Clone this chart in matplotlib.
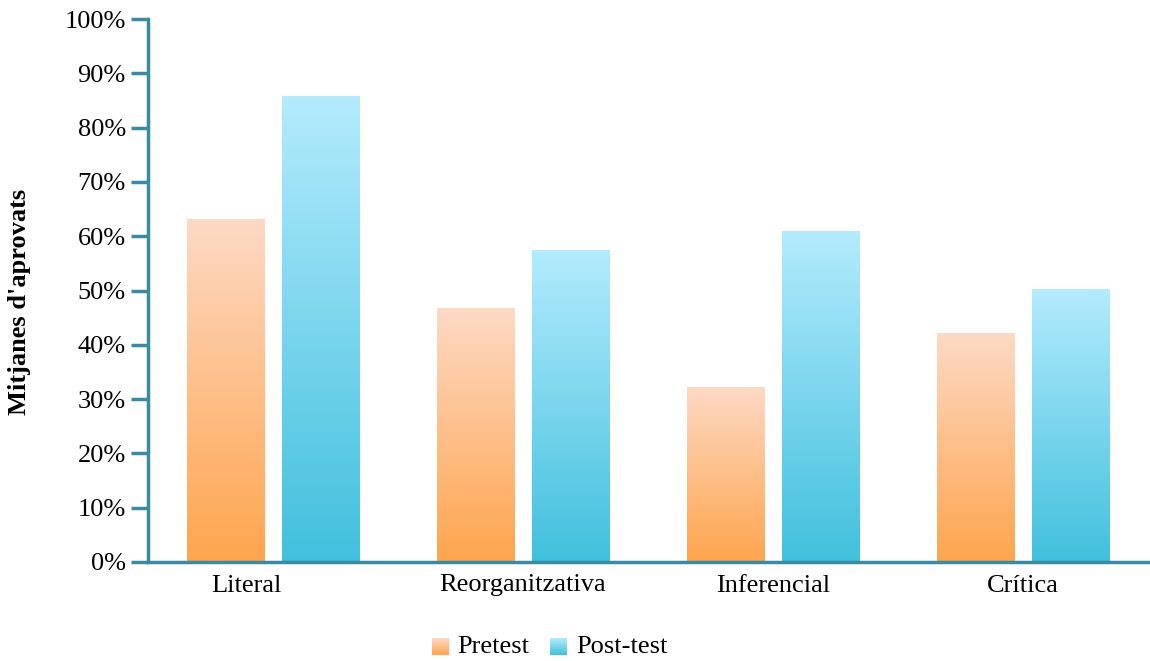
import matplotlib
matplotlib.use('Agg')
import matplotlib.pyplot as plt
import numpy as np
from matplotlib.colors import LinearSegmentedColormap
from matplotlib.ticker import FuncFormatter
from matplotlib.transforms import ScaledTranslation

plt.rcParams['font.family'] = ['Liberation Serif', 'DejaVu Serif']

categories = ['Literal', 'Reorganitzativa', 'Inferencial', 'Crítica']
pretest = [63.0, 46.6, 32.2, 42.0]
posttest = [85.8, 57.3, 60.8, 50.1]
series_names = ['Pretest', 'Post-test']

# degradats: de baix (intens) a dalt (clar)
cmap_pre = LinearSegmentedColormap.from_list('pre', ['#FFA54E', '#FDD9C5'])
cmap_post = LinearSegmentedColormap.from_list('post', ['#41C0DD', '#B4EBFD'])
axis_color = '#3A8BA1'
fs = 19

fig = plt.figure(figsize=(11.5, 6.61), dpi=100)
ax = fig.add_axes([148 / 1150, 1 - 562 / 661, 1000 / 1150, (562 - 19) / 661])

x = np.arange(len(categories))
w = 0.312
grad = np.linspace(0, 1, 256).reshape(-1, 1)


def gradient_bars(xpos, vals, cmap):
    bars = ax.bar(xpos, vals, w, color='none', edgecolor='none')
    for b in bars:
        x0, y0 = b.get_x(), b.get_y()
        ax.imshow(grad, cmap=cmap, origin='lower', aspect='auto',
                  extent=(x0, x0 + b.get_width(), y0, y0 + b.get_height()),
                  zorder=2)


gradient_bars(x - 0.19, pretest, cmap_pre)
gradient_bars(x + 0.19, posttest, cmap_post)

ax.set_xlim(-0.5, 3.5)
ax.set_ylim(0, 100)
ax.set_yticks(np.arange(0, 101, 10))
ax.yaxis.set_major_formatter(FuncFormatter(lambda v, p: f'{int(v)}%'))
ax.set_xticks(x)
ax.set_xticklabels(categories)
ax.tick_params(axis='x', length=0, labelsize=fs, pad=9)
ax.tick_params(axis='y', length=12, width=2.5, color=axis_color, labelsize=fs, pad=4)

# la primera etiqueta va una mica desplaçada a l'esquerra
lbl0 = ax.get_xticklabels()[0]
lbl0.set_transform(lbl0.get_transform() + ScaledTranslation(-0.27, 0, fig.dpi_scale_trans))

for s in ['top', 'right']:
    ax.spines[s].set_visible(False)
for s in ['left', 'bottom']:
    ax.spines[s].set_color(axis_color)
    ax.spines[s].set_linewidth(2.5)
    ax.spines[s].set_zorder(3)

fig.text(20 / 1150, 1 - 302 / 661, "Mitjanes d'aprovats", rotation=90,
         fontsize=fs, fontweight='bold', ha='center', va='center')

# llegenda feta a mà amb mostres en degradat
for sx, tx, name, cm in [(432, 457, series_names[0], cmap_pre),
                         (550, 576, series_names[1], cmap_post)]:
    sw = fig.add_axes([sx / 1150, 1 - 655 / 661, 17 / 1150, 17 / 661])
    sw.imshow(grad, cmap=cm, origin='lower', aspect='auto')
    sw.axis('off')
    fig.text(tx / 1150, 1 - 647 / 661, name, fontsize=fs, ha='left', va='center')

fig.savefig('out.png', dpi=100)
